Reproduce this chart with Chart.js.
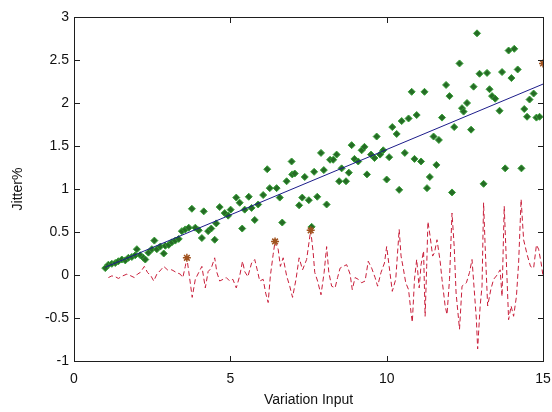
<!DOCTYPE html>
<html>
<head>
<meta charset="utf-8">
<script src="https://cdn.jsdelivr.net/npm/chart.js@4.4.1/dist/chart.umd.min.js"></script>
<style>
  html, body { margin: 0; padding: 0; background: #fff; }
  #chart { display: block; }
</style>
</head>
<body>
<canvas id="chart" width="552" height="412"></canvas>
<script>
// measured jitter (green diamonds)
const measX = [1.00, 1.10, 1.21, 1.32, 1.42, 1.53, 1.64, 1.74, 1.85, 1.96, 2.01, 2.12, 2.22, 2.28, 2.38, 2.49, 2.57, 2.65, 2.76, 2.87,
  2.92, 3.03, 3.13, 3.24, 3.35, 3.45, 3.56, 3.67, 3.77, 3.88, 3.99, 4.09, 4.15, 4.29, 4.39, 4.50, 4.55, 4.66, 4.82, 4.93,
  5.01, 5.19, 5.30, 5.38, 5.46, 5.59, 5.68, 5.78, 5.89, 6.05, 6.18, 6.26, 6.48, 6.58, 6.66, 6.80, 6.96, 6.98, 7.06, 7.20,
  7.30, 7.38, 7.51, 7.60, 7.68, 7.78, 7.90, 7.99, 8.08, 8.19, 8.29, 8.40, 8.48, 8.56, 8.70, 8.79, 8.88, 8.97, 9.09, 9.20,
  9.29, 9.37, 9.50, 9.61, 9.68, 9.79, 9.89, 10.00, 10.08, 10.18, 10.32, 10.40, 10.48, 10.58, 10.70, 10.80, 10.89, 10.96, 11.10, 11.21,
  11.29, 11.38, 11.50, 11.59, 11.67, 11.77, 11.90, 12.01, 12.09, 12.16, 12.33, 12.41, 12.46, 12.57, 12.70, 12.78, 12.89, 12.97, 13.10, 13.21,
  13.29, 13.37, 13.47, 13.61, 13.69, 13.79, 13.90, 13.99, 14.08, 14.19, 14.31, 14.40, 14.49, 14.57, 14.70, 14.79, 14.89];
const measY = [0.08, 0.12, 0.13, 0.14, 0.16, 0.18, 0.17, 0.20, 0.21, 0.23, 0.30, 0.23, 0.20, 0.18, 0.26, 0.30, 0.40, 0.30, 0.33, 0.25,
  0.34, 0.35, 0.38, 0.40, 0.42, 0.51, 0.53, 0.55, 0.77, 0.55, 0.52, 0.43, 0.74, 0.51, 0.54, 0.41, 0.60, 0.79, 0.72, 0.69,
  0.76, 0.90, 0.84, 0.54, 0.76, 0.91, 0.78, 0.64, 0.82, 0.93, 1.23, 1.01, 1.01, 0.90, 0.61, 1.09, 1.32, 1.17, 1.18, 0.81,
  0.90, 1.14, 0.87, 0.56, 1.20, 0.91, 1.42, 1.22, 0.82, 1.34, 1.34, 1.40, 1.09, 1.24, 1.09, 1.19, 1.51, 1.35, 1.32, 1.45,
  1.49, 1.17, 1.40, 1.36, 1.61, 1.40, 1.45, 1.11, 1.37, 1.72, 1.64, 0.99, 1.79, 1.42, 1.82, 2.13, 1.35, 1.86, 1.32, 2.13,
  1.01, 1.14, 1.61, 1.28, 1.57, 1.83, 2.21, 2.08, 0.96, 1.72, 2.46, 1.94, 1.90, 2.00, 1.69, 2.19, 2.81, 2.34, 1.06, 2.35,
  2.16, 2.08, 2.05, 1.91, 2.36, 1.24, 2.61, 2.29, 2.63, 2.39, 1.24, 1.93, 1.84, 2.04, 2.11, 1.83, 1.84];

// fitted trend (blue)
const fitX = [1, 15];
const fitY = [0.09, 2.22];

// variation (red dashed)
const varX = [1.10, 1.21, 1.32, 1.42, 1.56, 1.69, 1.82, 1.93, 2.03, 2.12, 2.25, 2.35, 2.46, 2.55, 2.65, 2.78, 2.87, 2.99, 3.13, 3.27,
  3.40, 3.48, 3.56, 3.61, 3.67, 3.74, 3.78, 3.88, 3.99, 4.09, 4.20, 4.29, 4.39, 4.50, 4.57, 4.66, 4.77, 4.87, 4.98, 5.08,
  5.19, 5.30, 5.39, 5.46, 5.56, 5.68, 5.78, 5.86, 5.94, 6.05, 6.13, 6.21, 6.28, 6.37, 6.43, 6.53, 6.60, 6.69, 6.80, 6.90,
  6.99, 7.10, 7.20, 7.31, 7.44, 7.57, 7.65, 7.70, 7.79, 7.90, 8.00, 8.08, 8.15, 8.24, 8.35, 8.43, 8.51, 8.61, 8.72, 8.83,
  8.90, 8.99, 9.09, 9.20, 9.31, 9.41, 9.52, 9.63, 9.71, 9.82, 9.93, 10.00, 10.08, 10.18, 10.29, 10.40, 10.46, 10.54, 10.61, 10.70,
  10.78, 10.82, 10.89, 10.96, 11.04, 11.10, 11.18, 11.23, 11.28, 11.32, 11.39, 11.47, 11.53, 11.61, 11.71, 11.77, 11.87, 11.93, 12.01, 12.09,
  12.16, 12.22, 12.33, 12.41, 12.55, 12.65, 12.73, 12.80, 12.87, 12.91, 12.99, 13.05, 13.10, 13.15, 13.23, 13.33, 13.42, 13.51, 13.63, 13.69,
  13.76, 13.83, 13.90, 13.98, 14.06, 14.15, 14.22, 14.30, 14.38, 14.49, 14.60, 14.70, 14.79, 14.86, 14.94, 15.00];
const varY = [-0.03, -0.01, -0.02, -0.04, -0.01, 0.01, -0.01, -0.03, 0.01, 0.03, 0.10, 0.03, -0.01, -0.07, 0.01, 0.06, 0.10, 0.06, 0.06, 0.03,
  0.01, -0.03, 0.10, 0.20, 0.04, -0.15, -0.26, -0.05, 0.03, 0.10, -0.15, 0.04, 0.08, 0.20, 0.03, -0.07, -0.05, -0.03, -0.07, -0.05,
  -0.15, -0.01, 0.16, 0.04, -0.02, 0.14, 0.18, 0.06, -0.07, -0.05, -0.21, -0.32, -0.01, 0.24, 0.39, 0.30, 0.10, 0.20, -0.01, -0.13,
  -0.26, -0.05, 0.20, 0.06, 0.18, 0.52, 0.26, 0.03, -0.07, -0.23, 0.03, 0.33, 0.03, -0.13, -0.15, -0.03, 0.08, 0.10, 0.12, 0.01,
  -0.17, -0.03, -0.05, -0.09, -0.07, 0.16, 0.08, -0.03, -0.13, 0.03, 0.14, 0.33, 0.10, -0.19, -0.05, 0.53, 0.22, 0.06, -0.09, -0.17,
  -0.44, -0.55, -0.05, 0.18, -0.15, 0.12, 0.28, -0.48, 0.10, 0.62, 0.45, 0.22, 0.26, 0.41, 0.16, -0.05, -0.36, -0.46, -0.05, 0.72,
  0.33, -0.21, -0.63, -0.13, -0.09, 0.03, 0.18, -0.17, -0.52, -0.86, -0.36, -0.13, 0.84, 0.33, -0.36, -0.17, -0.05, -0.01, 0.06, -0.25,
  0.80, 0.14, -0.52, -0.36, -0.48, -0.25, 0.14, 0.88, 0.41, 0.24, 0.10, 0.08, 0.35, 0.30, 0.14, -0.01];

// marked points (stars)
const markX = [3.61, 6.43, 7.57, 15.0];
const markY = [0.20, 0.39, 0.52, 2.46];

const xTicks = [0, 5, 10, 15];
const yTicks = [-1, -0.5, 0, 0.5, 1, 1.5, 2, 2.5, 3];

const toPoints = (xs, ys) => xs.map((x, i) => ({ x: x, y: ys[i] }));

// box round the plot with inward ticks (matlab look)
const framePlugin = {
  id: 'plotFrame',
  afterDraw(chart) {
    const ctx = chart.ctx;
    const a = chart.chartArea;
    const xs = chart.scales.x, ys = chart.scales.y;
    const l = Math.round(a.left), r = Math.round(a.right);
    const t = Math.round(a.top), b = Math.round(a.bottom);
    ctx.save();
    ctx.fillStyle = '#1e1e1e';
    ctx.fillRect(l, t, r - l + 1, 1);
    ctx.fillRect(r, t, 1, b - t + 1);
    xTicks.forEach(v => {
      const px = Math.round(xs.getPixelForValue(v));
      ctx.fillRect(px, b - 5, 1, 5);
      ctx.fillRect(px, t + 1, 1, 5);
    });
    yTicks.forEach(v => {
      const py = Math.round(ys.getPixelForValue(v));
      ctx.fillRect(l + 1, py, 5, 1);
      ctx.fillRect(r - 5, py, 5, 1);
    });
    ctx.restore();
  }
};

const font = { family: '"Liberation Sans", Arial, sans-serif', size: 14 };

new Chart(document.getElementById('chart').getContext('2d'), {
  type: 'scatter',
  data: {
    datasets: [{
      label: 'marked',
      data: toPoints(markX, markY),
      pointStyle: 'star',
      pointRadius: 4,
      borderColor: '#a0521e',
      borderWidth: 1.5
    }, {
      label: 'fit',
      data: toPoints(fitX, fitY),
      showLine: true,
      borderColor: '#1c1c8a',
      borderWidth: 1,
      pointRadius: 0
    }, {
      label: 'measured',
      data: toPoints(measX, measY),
      pointStyle: 'rectRot',
      pointRadius: 3.5,
      backgroundColor: '#266b26',
      borderColor: '#35a035',
      borderWidth: 1
    }, {
      label: 'variation',
      data: toPoints(varX, varY),
      showLine: true,
      borderColor: '#c81e3a',
      borderWidth: 1,
      borderDash: [5, 3],
      pointRadius: 0,
      tension: 0
    }]
  },
  options: {
    responsive: false,
    animation: false,
    layout: { padding: { top: 17, right: 0, left: 6, bottom: 0 } },
    plugins: {
      legend: { display: false },
      tooltip: { enabled: false }
    },
    scales: {
      x: {
        type: 'linear',
        min: 0,
        max: 15,
        afterBuildTicks: s => { s.ticks = xTicks.map(v => ({ value: v })); },
        afterFit: s => { s.height = 51; s.paddingRight = 9; },
        grid: { display: false, drawTicks: false },
        border: { display: true, color: '#1e1e1e', width: 1 },
        ticks: { color: '#111', font: font, padding: 10, maxRotation: 0, callback: v => String(v) },
        title: { display: true, text: 'Variation Input', color: '#111', font: font, padding: { top: 0, bottom: 3 } }
      },
      y: {
        type: 'linear',
        min: -1,
        max: 3,
        afterBuildTicks: s => { s.ticks = yTicks.map(v => ({ value: v })); },
        afterFit: s => { s.width = 68; },
        grid: { display: false, drawTicks: false },
        border: { display: true, color: '#1e1e1e', width: 1 },
        ticks: { color: '#111', font: font, padding: 5, callback: v => String(v) },
        title: { display: true, text: 'Jitter%', color: '#111', font: font }
      }
    }
  },
  plugins: [framePlugin]
});
</script>
</body>
</html>
